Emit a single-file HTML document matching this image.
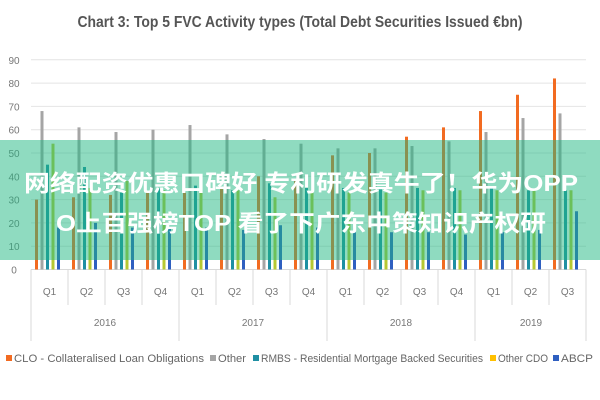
<!DOCTYPE html>
<html><head><meta charset="utf-8"><style>
html,body{margin:0;padding:0;background:#fff;}
svg{display:block;}
</style></head><body>
<svg id="s" width="600" height="400" xmlns="http://www.w3.org/2000/svg" font-family="Liberation Sans, sans-serif">
<rect width="600" height="400" fill="#fff"/>
<text x="300" y="27" text-anchor="middle" font-size="16" font-weight="bold" fill="#555" textLength="445" lengthAdjust="spacingAndGlyphs">Chart 3: Top 5 FVC Activity types (Total Debt Securities Issued €bn)</text>
<g id="grid"></g>
<g id="bars"></g>
<g id="axis"></g>
<g font-size="11" fill="#666">
<rect x="6" y="355" width="6" height="6" fill="#f26b21"/>
<text x="14" y="362" textLength="190" lengthAdjust="spacingAndGlyphs">CLO - Collateralised Loan Obligations</text>
<rect x="210" y="355" width="6" height="6" fill="#a5a5a5"/>
<text x="218" y="362" textLength="28" lengthAdjust="spacingAndGlyphs">Other</text>
<rect x="253" y="355" width="6" height="6" fill="#1f8fa3"/>
<text x="261" y="362" textLength="222" lengthAdjust="spacingAndGlyphs">RMBS - Residential Mortgage Backed Securities</text>
<rect x="490" y="355" width="6" height="6" fill="#ffc000"/>
<text x="498" y="362" textLength="50" lengthAdjust="spacingAndGlyphs">Other CDO</text>
<rect x="553" y="355" width="6" height="6" fill="#2f5fc0"/>
<text x="561" y="362" textLength="32" lengthAdjust="spacingAndGlyphs">ABCP</text>
</g>
<rect x="0" y="140" width="600" height="120" fill="rgb(32,184,130)" fill-opacity="0.5"/>
<g font-family="Liberation Sans, Noto Sans CJK SC, sans-serif" font-weight="bold" font-size="23" fill="#fff">
<text x="24" y="191" textLength="554" lengthAdjust="spacingAndGlyphs">网络配资优惠口碑好 专利研发真牛了！华为OPP</text>
<text x="56" y="231" textLength="490" lengthAdjust="spacingAndGlyphs">O上百强榜TOP 看了下广东中策知识产权研</text>
</g>
</svg>
<script>
var NS="http://www.w3.org/2000/svg";
function el(p,t,a,txt){var e=document.createElementNS(NS,t);for(var k in a)e.setAttribute(k,a[k]);if(txt!=null)e.textContent=txt;document.getElementById(p).appendChild(e);return e;}
var y0=269.5,u=2.33;
for(var i=0;i<=9;i++){var y=y0-i*10*u;
 if(i>0)el("grid","line",{x1:31,x2:586,y1:y,y2:y,stroke:"#e4e4e4","stroke-width":1});
 el("grid","text",{x:14,y:y+4,"font-size":"10",fill:"#777","text-anchor":"middle"},String(i*10));}
el("grid","line",{x1:31,x2:586,y1:y0,y2:y0,stroke:"#d9d9d9","stroke-width":1});
var d=[[30,68,45,54,18],[31,61,44,35,20],[32,59,33,38,18],[33,60,35,34,18],
[33,62,36,34,18],[35,58,34,34,17],[40,56,37,31,19],[38,54,35,33,18],
[49,52,35,33,18],[50,52,35,33,16],[57,53,35,34,16],[61,55,35,34,15],
[68,59,35,34,16],[75,65,34,34,17],[82,67,34,34,25]];
var col=["#f26b21","#a5a5a5","#1f8fa3","#b7c832","#2f5fc0"];
var cw=37;
for(var g=0;g<15;g++){var cx=31+cw*g+cw/2;
 for(var s=0;s<5;s++){var h=d[g][s]*u;var x=cx-13+s*5.5;
  el("bars","rect",{x:x-1.5,y:y0-h,width:3,height:h,fill:col[s]});}
 el("axis","text",{x:cx,y:295,"font-size":"10",fill:"#777","text-anchor":"middle"},"Q"+(g%4+1));
 el("axis","line",{x1:31+cw*g,x2:31+cw*g,y1:y0,y2:(g%4==0?341:305),stroke:"#d9d9d9"});}
el("axis","line",{x1:586,x2:586,y1:y0,y2:341,stroke:"#d9d9d9"});
var yrs=[["2016",105],["2017",253],["2018",401],["2019",531]];
yrs.forEach(function(a){el("axis","text",{x:a[1],y:326,"font-size":"10",fill:"#777","text-anchor":"middle"},a[0]);});
</script>
</body></html>
